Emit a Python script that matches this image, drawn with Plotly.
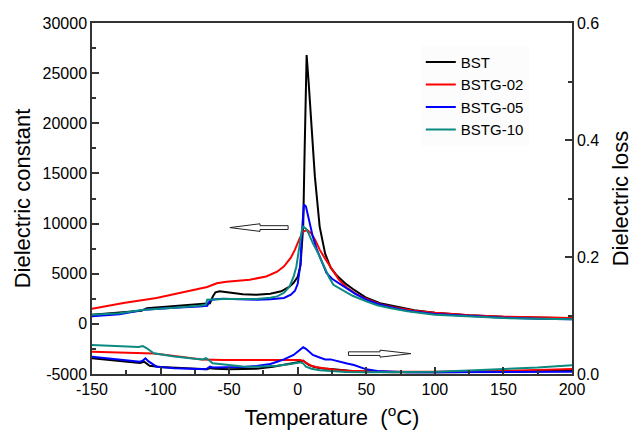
import plotly.graph_objects as go

# ---------------- data ----------------
series_names = ["BST", "BSTG-02", "BSTG-05", "BSTG-10"]
series_colors = ["#000000", "#ff0000", "#0000ff", "#0a8a80"]

# Dielectric constant (left axis)
bst_eps_T = [-150, -130, -114, -110, -100, -85, -70, -64, -62, -60, -57, -50, -40, -30, -20, -12, -6, -3, 0, 2, 4, 5, 6.5, 8, 10, 12.5, 16, 20, 24, 28, 31, 35, 40, 50, 60, 70, 85, 100, 125, 150, 175, 200]
bst_eps = [900, 1100, 1300, 1550, 1650, 1800, 1950, 2050, 2700, 3150, 3250, 3100, 2950, 2900, 3000, 3250, 3700, 4100, 4700, 5800, 9700, 17000, 26800, 24000, 19700, 14700, 9700, 7000, 5600, 4900, 4500, 4000, 3500, 2600, 2050, 1750, 1350, 1100, 850, 700, 620, 560]

g02_eps_T = [-150, -127, -103, -79, -66, -59, -52, -35, -23, -15, -10, -5, -2, 1, 4, 7, 10, 13, 16, 20, 24, 30, 36, 42, 48, 60, 70, 85, 100, 125, 150, 175, 200]
g02_eps = [1500, 2080, 2580, 3240, 3670, 4050, 4200, 4400, 4730, 5200, 5730, 6600, 7400, 8400, 9200, 9350, 9000, 8300, 7400, 6500, 5700, 4400, 3600, 3050, 2600, 1950, 1650, 1300, 1100, 850, 720, 640, 580]

g05_eps_T = [-150, -130, -112, -108, -90, -72, -66, -64, -60, -54, -40, -30, -20, -10, -5, -2, 0, 2, 3, 4.5, 6, 9, 11, 14, 18, 21, 25, 28, 32, 36, 42, 50, 58, 67, 80, 100, 125, 150, 175, 200]
g05_eps = [750, 950, 1400, 1450, 1600, 1740, 1800, 2350, 2450, 2500, 2450, 2410, 2450, 2580, 2900, 3300, 4000, 6000, 9000, 11900, 11700, 10050, 8700, 7390, 6000, 5070, 4500, 4240, 3900, 3580, 3000, 2410, 2000, 1680, 1300, 985, 770, 620, 520, 470]

g10_eps_T = [-150, -130, -112, -105, -90, -72, -67, -66, -62, -54, -40, -30, -20, -15, -10, -6, -3, -1, 1, 3, 4, 6, 8, 11, 15, 19, 23, 26, 32, 40, 50, 58, 67, 80, 100, 125, 150, 175, 200]
g10_eps = [900, 1050, 1400, 1450, 1600, 1800, 1900, 2400, 2450, 2480, 2480, 2480, 2600, 2740, 3100, 3700, 4700, 5700, 7500, 9300, 9700, 9500, 9000, 8060, 7000, 5730, 4600, 3900, 3410, 2800, 2240, 1850, 1580, 1250, 917, 720, 580, 500, 460]

# Dielectric loss (right axis)
bst_loss_T = [-150, -130, -115, -112, -110, -108, -100, -85, -70, -66, -64, -60, -50, -40, -30, -18, -10, -1, 2, 4, 6, 8, 12, 18, 24, 30, 40, 50, 70, 100, 125, 150, 175, 200]
bst_loss = [0.027, 0.023, 0.019, 0.021, 0.017, 0.014, 0.012, 0.010, 0.0085, 0.008, 0.010, 0.009, 0.008, 0.008, 0.009, 0.0125, 0.016, 0.019, 0.021, 0.023, 0.019, 0.0154, 0.012, 0.0095, 0.0085, 0.007, 0.005, 0.004, 0.003, 0.003, 0.003, 0.004, 0.005, 0.006]

g02_loss_T = [-150, -130, -105, -90, -79, -70, -54, -40, -20, -6, -1, 2, 4, 7, 10, 14, 20, 28, 36, 50, 70, 100, 125, 150, 175, 200]
g02_loss = [0.038, 0.037, 0.035, 0.031, 0.027, 0.025, 0.024, 0.024, 0.024, 0.025, 0.025, 0.024, 0.022, 0.018, 0.014, 0.0114, 0.009, 0.007, 0.0057, 0.0045, 0.004, 0.004, 0.0045, 0.0055, 0.007, 0.0085]

g05_loss_T = [-150, -130, -115, -113, -111, -109, -107, -103, -90, -75, -67, -65, -64, -62, -50, -40, -30, -20, -15, -10, -3, 0, 2, 4, 6, 9, 11, 15, 20, 24, 27, 31, 36, 41, 46, 50, 58, 65, 80, 100, 125, 150, 175, 200]
g05_loss = [0.0296, 0.025, 0.021, 0.023, 0.0268, 0.022, 0.0183, 0.0125, 0.010, 0.0085, 0.008, 0.011, 0.0125, 0.011, 0.0115, 0.012, 0.0137, 0.017, 0.021, 0.025, 0.0325, 0.038, 0.043, 0.0456, 0.043, 0.037, 0.0325, 0.029, 0.025, 0.025, 0.023, 0.021, 0.018, 0.0154, 0.012, 0.008, 0.005, 0.004, 0.003, 0.003, 0.003, 0.003, 0.0033, 0.004]

g10_loss_T = [-150, -130, -120, -116, -113, -110, -105, -90, -75, -69, -67, -66, -62, -50, -40, -30, -15, -5, -1, 2, 4, 6, 10, 16, 24, 35, 50, 70, 100, 125, 150, 175, 200]
g10_loss = [0.0495, 0.047, 0.0456, 0.046, 0.0478, 0.044, 0.0353, 0.030, 0.026, 0.025, 0.027, 0.026, 0.0183, 0.015, 0.013, 0.0125, 0.014, 0.017, 0.0193, 0.020, 0.018, 0.0125, 0.009, 0.0065, 0.0050, 0.0035, 0.0028, 0.003, 0.004, 0.006, 0.0085, 0.011, 0.015]

eps_T = [bst_eps_T, g02_eps_T, g05_eps_T, g10_eps_T]
eps_vals = [bst_eps, g02_eps, g05_eps, g10_eps]
loss_T = [bst_loss_T, g02_loss_T, g05_loss_T, g10_loss_T]
loss_vals = [bst_loss, g02_loss, g05_loss, g10_loss]

x_ticks = [-150, -100, -50, 0, 50, 100, 150, 200]
x_ticklabels = ["-150", "-100", "-50", "0", "50", "100", "150", "200"]
y_ticks = [-5000, 0, 5000, 10000, 15000, 20000, 25000, 30000]
y_ticklabels = ["-5000", "0", "5000", "10000", "15000", "20000", "25000", "30000"]
y2_ticks = [0.0, 0.2, 0.4, 0.6]
y2_ticklabels = ["0.0", "0.2", "0.4", "0.6"]

FONT = "Arial, Liberation Sans, sans-serif"
AXC = "#333333"

fig = go.Figure()

# loss curves first (drawn underneath)
for name, col, tx, ly in zip(series_names, series_colors, loss_T, loss_vals):
    fig.add_trace(go.Scatter(x=tx, y=ly, mode="lines", name=name, yaxis="y2",
                             line=dict(color=col, width=2), showlegend=False))

for name, col, tx, ey in zip(series_names, series_colors, eps_T, eps_vals):
    fig.add_trace(go.Scatter(x=tx, y=ey, mode="lines", name=name, yaxis="y",
                             line=dict(color=col, width=2)))

# hollow arrows (left arrow -> dielectric constant axis, right arrow -> loss axis)
def arrow_path(x_tail, x_base, x_tip, yc, hs, hh):
    return (f"M {x_tail},{yc+hs} L {x_base},{yc+hs} L {x_base},{yc+hh} L {x_tip},{yc} "
            f"L {x_base},{yc-hh} L {x_base},{yc-hs} L {x_tail},{yc-hs} Z")

fig.add_shape(type="path", xref="x", yref="y",
              path=arrow_path(-7, -27.5, -49.5, 9600, 190, 380),
              line=dict(color="#222222", width=1), fillcolor="white")
fig.add_shape(type="path", xref="x", yref="y",
              path=arrow_path(37, 60, 82.5, -2970, 180, 350),
              line=dict(color="#222222", width=1), fillcolor="white")

fig.update_layout(
    width=633, height=430,
    margin=dict(l=92, r=61, t=23, b=56, autoexpand=False),
    paper_bgcolor="white", plot_bgcolor="white",
    font=dict(family=FONT, size=16, color="#000000"),
    showlegend=True,
    legend=dict(x=0.685, y=0.935, xanchor="left", yanchor="top",
                bgcolor="rgba(250,250,250,0.6)", borderwidth=0,
                font=dict(family=FONT, size=15, color="#000000"),
                tracegroupgap=0, itemwidth=30),
    xaxis=dict(range=[-150, 200], tickmode="array", tickvals=x_ticks, ticktext=x_ticklabels,
               automargin=False,
               ticks="inside", ticklen=7, tickwidth=1.5, tickcolor=AXC,
               minor=dict(ticks="inside", ticklen=4, dtick=25, tick0=-150, tickcolor=AXC, tickwidth=1.5),
               showline=True, linecolor=AXC, linewidth=1.5, mirror=True,
               showgrid=False, zeroline=False,
               tickfont=dict(family=FONT, size=16),
               title=dict(text="Temperature\u00a0\u00a0(<sup>o</sup>C)",
                          font=dict(family=FONT, size=22), standoff=18)),
    yaxis=dict(range=[-5000, 30000], tickmode="array", tickvals=y_ticks, ticktext=y_ticklabels,
               automargin=False,
               ticks="inside", ticklen=7, tickwidth=1.5, tickcolor=AXC,
               minor=dict(ticks="inside", ticklen=4, dtick=2500, tick0=-5000, tickcolor=AXC, tickwidth=1.5),
               showline=True, linecolor=AXC, linewidth=1.5,
               showgrid=False, zeroline=False,
               tickfont=dict(family=FONT, size=16),
               title=dict(text="Dielectric constant", font=dict(family=FONT, size=22), standoff=6)),
    yaxis2=dict(range=[0, 0.6], tickmode="array", tickvals=y2_ticks, ticktext=y2_ticklabels,
                overlaying="y", side="right", anchor="x", automargin=False,
                ticks="inside", ticklen=7, tickwidth=1.5, tickcolor=AXC,
                minor=dict(ticks="inside", ticklen=4, dtick=0.1, tick0=0, tickcolor=AXC, tickwidth=1.5),
                showline=True, linecolor=AXC, linewidth=1.5,
                showgrid=False, zeroline=False,
                tickfont=dict(family=FONT, size=16),
                title=dict(text="Dielectric loss", font=dict(family=FONT, size=22), standoff=16)),
)

fig.write_html("out.html")
